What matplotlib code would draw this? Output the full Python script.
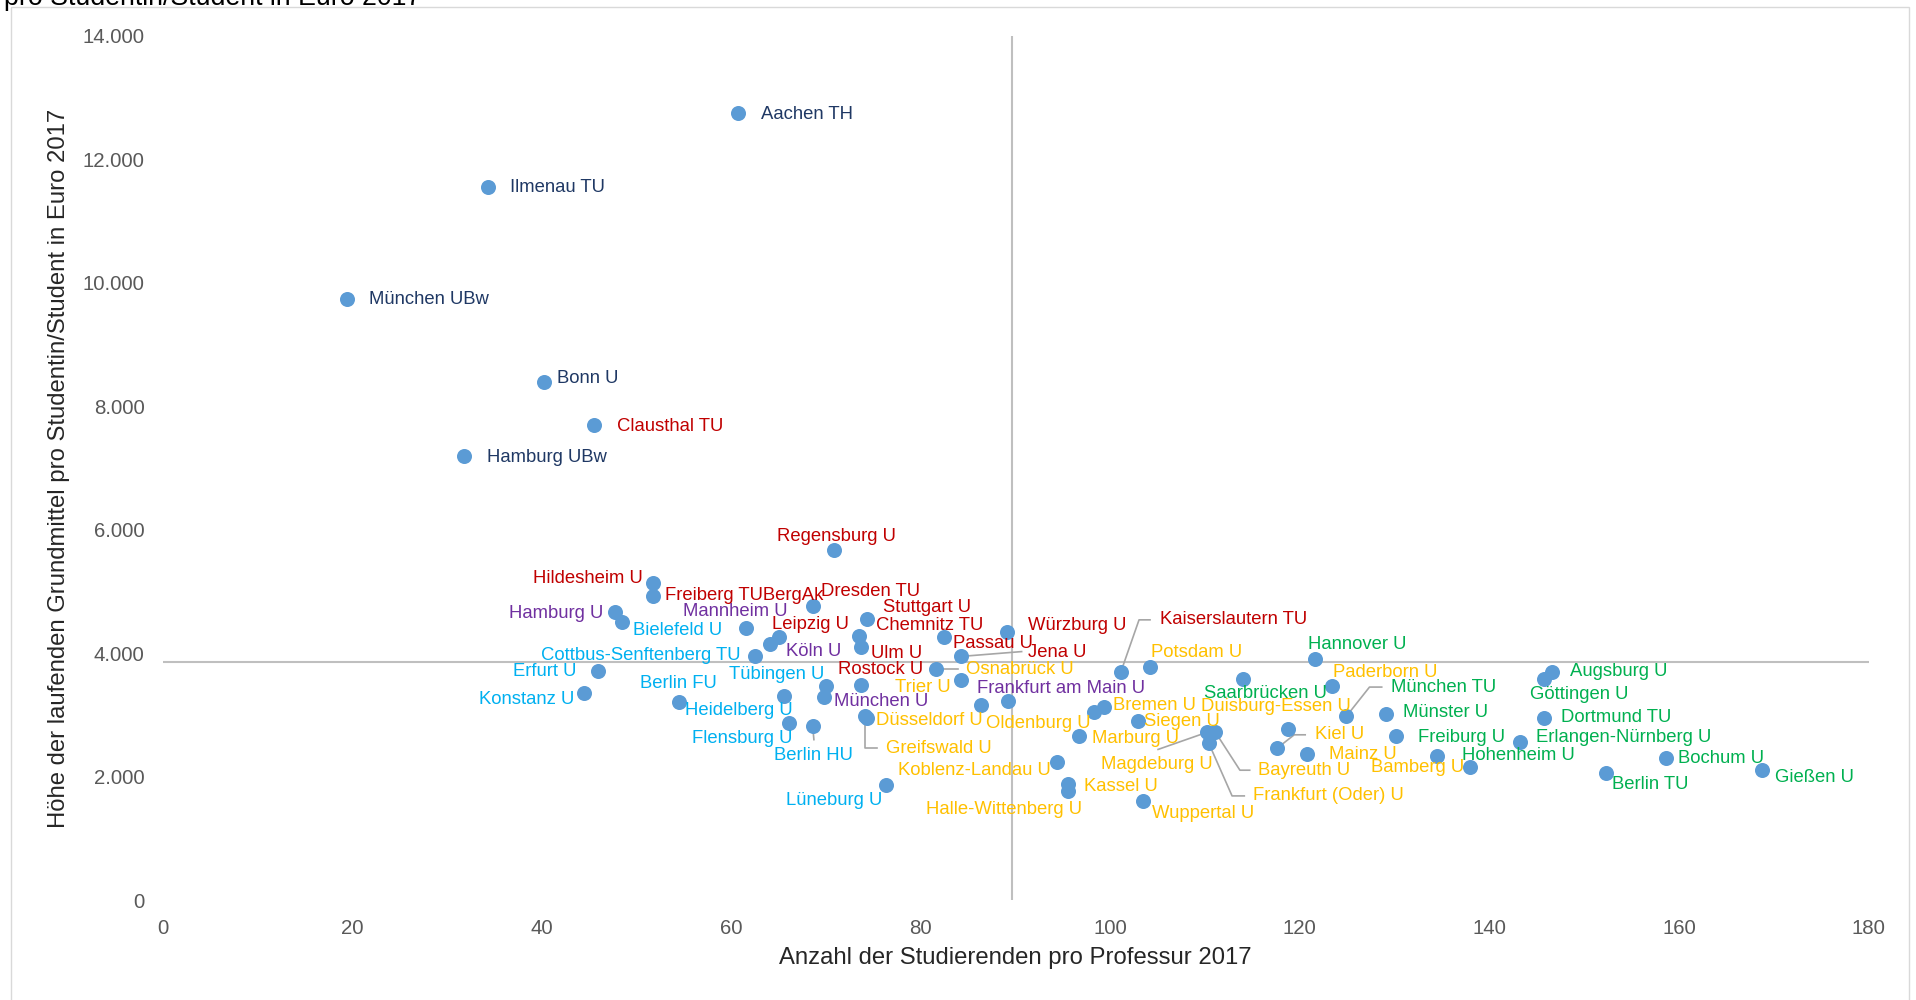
import numpy as np
import matplotlib.pyplot as plt
from matplotlib.transforms import IdentityTransform
from matplotlib.patches import Rectangle

plt.rcParams['font.family'] = ['Liberation Sans', 'DejaVu Sans']

# universities: students per professor vs. basic funds per student (2017)
names = ['Aachen TH', 'Ilmenau TU', 'München UBw', 'Bonn U', 'Clausthal TU', 'Hamburg UBw',
         'Regensburg U', 'Hildesheim U', 'Freiberg TUBergAk', 'Hamburg U', 'Bielefeld U', 'Mannheim U',
         'Dresden TU', 'Stuttgart U', 'Leipzig U', 'Köln U', 'Chemnitz TU', 'Ulm U',
         'Cottbus-Senftenberg TU', 'Würzburg U', 'Passau U', 'Jena U', 'Osnabrück U', 'Rostock U',
         'Erfurt U', 'Konstanz U', 'Berlin FU', 'Tübingen U', 'München U', 'Heidelberg U',
         'Flensburg U', 'Berlin HU', 'Greifswald U', 'Düsseldorf U', 'Trier U', 'Frankfurt am Main U',
         'Oldenburg U', '', 'Bremen U', 'Siegen U', 'Marburg U', 'Koblenz-Landau U',
         'Kassel U', 'Halle-Wittenberg U', 'Wuppertal U', 'Lüneburg U', 'Potsdam U', 'Kaiserslautern TU',
         'Saarbrücken U', 'Hannover U', 'Paderborn U', 'Magdeburg U', 'Bayreuth U', 'Frankfurt (Oder) U',
         'Duisburg-Essen U', 'München TU', 'Kiel U', 'Mainz U', 'Münster U', 'Freiburg U',
         'Bamberg U', 'Hohenheim U', 'Augsburg U', 'Göttingen U', 'Dortmund TU', 'Erlangen-Nürnberg U',
         'Bochum U', 'Berlin TU', 'Gießen U']

students_per_prof = [60.7, 34.3, 19.5, 40.2, 45.5, 31.8,
                     70.9, 51.7, 51.7, 47.7, 48.5, 61.6,
                     68.6, 74.3, 65.0, 64.1, 73.5, 73.7,
                     62.5, 89.1, 82.5, 84.2, 81.6, 73.7,
                     45.9, 44.5, 54.5, 70.0, 69.8, 65.6,
                     66.1, 68.6, 74.1, 74.3, 84.2, 89.2,
                     86.4, 98.3, 99.3, 102.9, 96.7, 94.4,
                     95.5, 95.5, 103.4, 76.3, 104.2, 101.1,
                     114.0, 121.6, 123.4, 110.2, 111.1, 110.4,
                     118.8, 124.9, 117.6, 120.8, 129.1, 130.1,
                     134.5, 138.0, 146.6, 145.8, 145.8, 143.2,
                     158.6, 152.3, 168.8]

funds_per_student = [12750, 11560, 9737, 8388, 7694, 7198,
                     5671, 5136, 4918, 4660, 4501, 4402,
                     4759, 4561, 4263, 4144, 4283, 4105,
                     3946, 4343, 4263, 3946, 3748, 3490,
                     3708, 3351, 3212, 3470, 3292, 3312,
                     2875, 2816, 2975, 2955, 3569, 3232,
                     3153, 3054, 3133, 2895, 2657, 2241,
                     1884, 1765, 1606, 1864, 3768, 3688,
                     3589, 3907, 3470, 2717, 2717, 2538,
                     2776, 2975, 2459, 2360, 3014, 2657,
                     2340, 2162, 3688, 3589, 2955, 2558,
                     2300, 2062, 2102]

groups = ['navy', 'navy', 'navy', 'navy', 'red', 'navy',
          'red', 'red', 'red', 'purple', 'cyan', 'purple',
          'red', 'red', 'red', 'purple', 'red', 'red',
          'cyan', 'red', 'red', 'red', 'yellow', 'red',
          'cyan', 'cyan', 'cyan', 'cyan', 'purple', 'cyan',
          'cyan', 'cyan', 'yellow', 'yellow', 'yellow', 'purple',
          'yellow', 'yellow', 'yellow', 'yellow', 'yellow', 'yellow',
          'yellow', 'yellow', 'yellow', 'cyan', 'yellow', 'red',
          'green', 'green', 'yellow', 'yellow', 'yellow', 'yellow',
          'yellow', 'green', 'yellow', 'yellow', 'green', 'green',
          'yellow', 'green', 'green', 'green', 'green', 'green',
          'green', 'green', 'green']

x_ticks = [0, 20, 40, 60, 80, 100, 120, 140, 160, 180]
y_ticks = [0, 2000, 4000, 6000, 8000, 10000, 12000, 14000]
y_ticklabels = ['0', '2.000', '4.000', '6.000', '8.000', '10.000', '12.000', '14.000']

colors = {'navy': '#1F3864', 'red': '#C00000', 'purple': '#7030A0',
          'cyan': '#00B0F0', 'yellow': '#FFC000', 'green': '#00B050'}

# label placement (dx, dy, ha) in pixels of the 1568-wide view, dy positive = up
S = 1916 / 1568
label_pos = {
    'Aachen TH': (19, -1, 'left'), 'Ilmenau TU': (18, -1, 'left'), 'München UBw': (18, 0, 'left'),
    'Bonn U': (11, 3, 'left'), 'Clausthal TU': (19, -1, 'left'), 'Hamburg UBw': (19, -1, 'left'),
    'Regensburg U': (2, 11, 'center'), 'Hildesheim U': (-8, 4, 'right'),
    'Freiberg TUBergAk': (10, 1, 'left'), 'Hamburg U': (-9, -1, 'right'), 'Bielefeld U': (9, -7, 'left'),
    'Mannheim U': (34, 14, 'right'), 'Dresden TU': (7, 12, 'left'), 'Stuttgart U': (13, 9, 'left'),
    'Leipzig U': (-5, 10, 'left'), 'Köln U': (13, -6, 'left'), 'Chemnitz TU': (14, 8, 'left'),
    'Ulm U': (8, -6, 'left'), 'Cottbus-Senftenberg TU': (-12, 1, 'right'), 'Würzburg U': (17, 5, 'left'),
    'Passau U': (7, -5, 'left'), 'Jena U': (55, 3, 'left'), 'Osnabrück U': (25, -1, 'left'),
    'Rostock U': (-19, 12, 'left'), 'Erfurt U': (-17, 0, 'right'), 'Konstanz U': (-8, -5, 'right'),
    'Berlin FU': (-32, 15, 'left'), 'Tübingen U': (-1, 9, 'right'), 'München U': (8, -4, 'left'),
    'Heidelberg U': (7, -12, 'right'), 'Flensburg U': (3, -13, 'right'), 'Berlin HU': (1, -24, 'center'),
    'Greifswald U': (17, -26, 'left'), 'Düsseldorf U': (8, -2, 'left'), 'Trier U': (-8, -6, 'right'),
    'Frankfurt am Main U': (-25, 10, 'left'), 'Oldenburg U': (4, -15, 'left'), 'Bremen U': (8, 1, 'left'),
    'Siegen U': (5, 0, 'left'), 'Marburg U': (11, -2, 'left'), 'Koblenz-Landau U': (-5, -7, 'right'),
    'Kassel U': (13, -2, 'left'), 'Halle-Wittenberg U': (12, -15, 'right'), 'Wuppertal U': (8, -10, 'left'),
    'Lüneburg U': (-3, -13, 'right'), 'Potsdam U': (1, 12, 'left'), 'Kaiserslautern TU': (32, 43, 'left'),
    'Saarbrücken U': (-32, -12, 'left'), 'Hannover U': (-6, 12, 'left'), 'Paderborn U': (1, 11, 'left'),
    'Magdeburg U': (5, -26, 'right'), 'Bayreuth U': (35, -31, 'left'), 'Frankfurt (Oder) U': (36, -43, 'left'),
    'Duisburg-Essen U': (51, 18, 'right'), 'München TU': (37, 24, 'left'), 'Kiel U': (31, 11, 'left'),
    'Mainz U': (18, 0, 'left'), 'Münster U': (14, 1, 'left'), 'Freiburg U': (18, -1, 'left'),
    'Bamberg U': (22, -10, 'right'), 'Hohenheim U': (-7, 9, 'left'), 'Augsburg U': (15, 1, 'left'),
    'Göttingen U': (-12, -13, 'left'), 'Dortmund TU': (14, 0, 'left'), 'Erlangen-Nürnberg U': (13, 4, 'left'),
    'Bochum U': (10, 0, 'left'), 'Berlin TU': (5, -10, 'left'), 'Gießen U': (10, -6, 'left'),
}
leaders = {
    'Jena U': [(0, 0), (50, 4)],
    'Osnabrück U': [(0, 0), (18, 0)],
    'Berlin HU': [(0, 0), (1, -11)],
    'Greifswald U': [(0, 0), (0, -26), (10, -26)],
    'Kaiserslautern TU': [(0, 0), (15, 43), (24, 43)],
    'München TU': [(0, 0), (19, 24), (29, 24)],
    'Magdeburg U': [(0, 0), (-40, -14)],
    'Bayreuth U': [(0, 0), (20, -31), (28, -31)],
    'Frankfurt (Oder) U': [(0, 0), (19, -43), (29, -43)],
    'Kiel U': [(0, 0), (14, 11), (23, 11)],
}

fig = plt.figure(figsize=(19.16, 10), dpi=100)
ax = fig.add_axes([162.5 / 1916, 0.100, (1868.5 - 162.5) / 1916, 0.864])
ax.set_xlim(0, 180)
ax.set_ylim(0, 14000)

fig.add_artist(Rectangle((11 / 1916, -0.05), (1909 - 11) / 1916, 1.05 - 0.007,
                         transform=fig.transFigure, fill=False, edgecolor='#D9D9D9', lw=1))
fig.text(4 / 1916, 1 - 5 / 1000, 'pro Studentin/Student in Euro 2017', fontsize=19.3,
         color='black', va='baseline', ha='left')

# mean lines
ax.axvline(np.mean(students_per_prof), color='#BFBFBF', lw=1.5, zorder=1)
ax.axhline(np.mean(funds_per_student), color='#BFBFBF', lw=1.5, zorder=1)

ax.scatter(students_per_prof, funds_per_student, s=117, color='#5B9BD5', zorder=3, linewidths=0)

for n, x, y, g in zip(names, students_per_prof, funds_per_student, groups):
    if n not in label_pos:
        continue
    dx, dy, ha = label_pos[n]
    ax.annotate(n, (x, y), xytext=(dx * S, dy * S), textcoords='offset pixels',
                ha=ha, va='center', fontsize=13.3, color=colors[g], zorder=4)
    if n in leaders:
        px, py = ax.transData.transform((x, y))
        xs = [px + a * S for a, b in leaders[n]]
        ys = [py + b * S for a, b in leaders[n]]
        ax.plot(xs, ys, color='#A6A6A6', lw=1.2, transform=IdentityTransform(), clip_on=False, zorder=2)

for s in ax.spines.values():
    s.set_visible(False)
ax.set_xticks(x_ticks)
ax.set_yticks(y_ticks)
ax.set_yticklabels(y_ticklabels)
ax.tick_params(length=0, labelsize=14.7, labelcolor='#595959')
ax.tick_params(axis='x', pad=14)
ax.tick_params(axis='y', pad=13)

ax.set_xlabel('Anzahl der Studierenden pro Professur 2017', fontsize=17.2, color='#262626')
ax.set_ylabel('Höhe der laufenden Grundmittel pro Studentin/Student in Euro 2017', fontsize=17.2,
              color='#262626')
ax.xaxis.set_label_coords(0.5, -0.054)
ax.yaxis.set_label_coords(-(162.5 - 70) / (1868.5 - 162.5), 0.5)

fig.savefig('out.png', dpi=100)
